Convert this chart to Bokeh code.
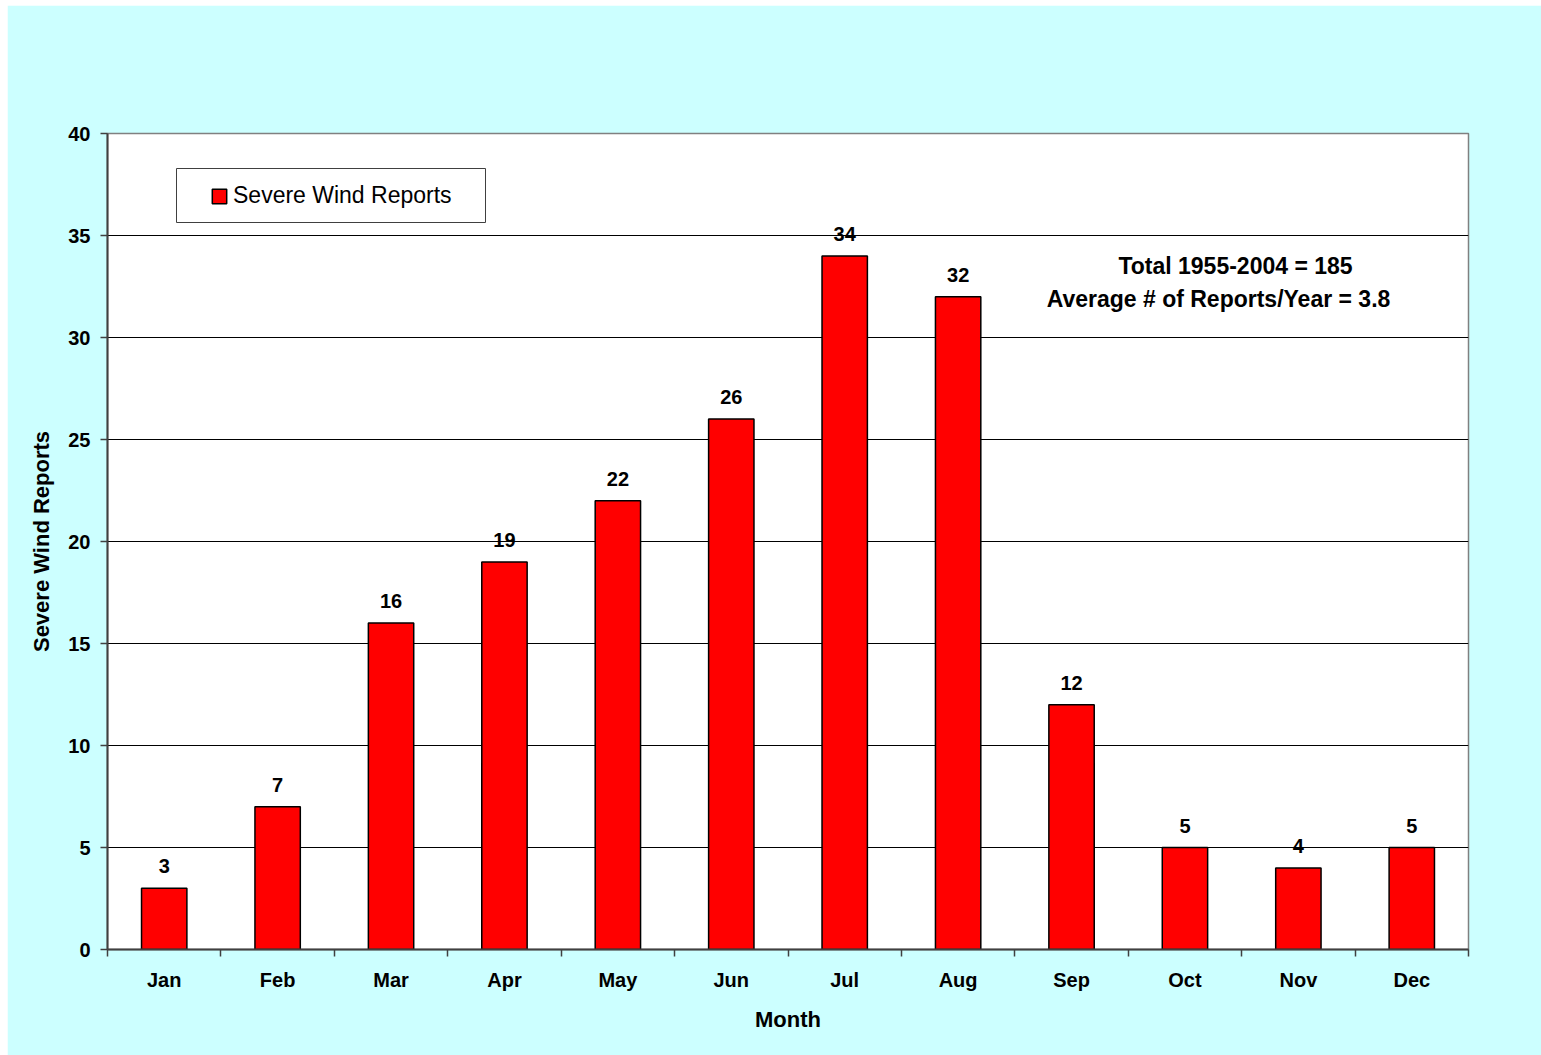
from bokeh.plotting import figure
from bokeh.models import (Range1d, FixedTicker, Label, BoxAnnotation,
                          ColumnDataSource, Legend, LegendItem)
from bokeh.embed import file_html
from bokeh.resources import INLINE
from bokeh.core.properties import value

# ---- data ----
months = ["Jan", "Feb", "Mar", "Apr", "May", "Jun",
          "Jul", "Aug", "Sep", "Oct", "Nov", "Dec"]
reports = [3, 7, 16, 19, 22, 26, 34, 32, 12, 5, 4, 5]
series_name = "Severe Wind Reports"
y_ticks = [0, 5, 10, 15, 20, 25, 30, 35, 40]
note_lines = ["Total 1955-2004 = 185", "Average # of Reports/Year = 3.8"]

FONT = "Liberation Sans"
BG = "#CCFFFF"

centers = [i + 0.5 for i in range(len(months))]
src = ColumnDataSource(dict(x=centers, top=reports,
                            lab=[str(v) for v in reports]))

p = figure(width=1534, height=1050, margin=(5, 0, 0, 7),
           output_backend="svg", toolbar_location=None,
           x_range=Range1d(0, len(months)), y_range=Range1d(0, 40),
           min_border_left=100, min_border_right=73, min_border_top=128,
           min_border_bottom=106)
p.background_fill_color = "white"
p.border_fill_color = BG
p.outline_line_color = "#808080"
p.outline_line_width = 1.5

bars = p.vbar(x="x", top="top", width=0.4, bottom=0, source=src,
              fill_color="#FF0000", line_color="black", line_width=1.5)

p.text(x="x", y="top", text="lab", source=src, text_align="center",
       text_baseline="alphabetic", y_offset=-22,
       text_font=value(FONT), text_font_style="bold",
       text_font_size="20px", text_color="black")

# x axis
xa = p.xaxis[0]
xa.ticker = FixedTicker(ticks=centers, minor_ticks=list(range(len(months) + 1)))
xa.major_label_overrides = {c: m for c, m in zip(centers, months)}
xa.major_tick_out = 0
xa.major_tick_in = 0
xa.minor_tick_out = 7
xa.minor_tick_in = 0
xa.minor_tick_line_color = "#404040"
xa.minor_tick_line_width = 1.5
xa.axis_line_color = "#404040"
xa.axis_line_width = 2
xa.major_label_text_font = FONT
xa.major_label_text_font_style = "bold"
xa.major_label_text_font_size = "20px"
xa.major_label_text_color = "black"
xa.major_label_standoff = 12
xa.axis_label = "Month"
xa.axis_label_text_font = FONT
xa.axis_label_text_font_style = "bold"
xa.axis_label_text_font_size = "22px"
xa.axis_label_text_color = "black"
xa.axis_label_standoff = 13

# y axis
ya = p.yaxis[0]
ya.ticker = FixedTicker(ticks=y_ticks)
ya.major_tick_out = 7
ya.major_tick_in = 0
ya.minor_tick_out = 0
ya.minor_tick_in = 0
ya.major_tick_line_color = "#404040"
ya.major_tick_line_width = 1.5
ya.axis_line_color = "#404040"
ya.axis_line_width = 2
ya.major_label_text_font = FONT
ya.major_label_text_font_style = "bold"
ya.major_label_text_font_size = "20px"
ya.major_label_text_color = "black"
ya.major_label_standoff = 10
ya.axis_label = series_name
ya.axis_label_text_font = FONT
ya.axis_label_text_font_style = "bold"
ya.axis_label_text_font_size = "22px"
ya.axis_label_text_color = "black"
ya.axis_label_standoff = 11

p.xgrid.grid_line_color = None
p.ygrid.grid_line_color = "black"
p.ygrid.grid_line_width = 1
p.ygrid.ticker = FixedTicker(ticks=y_ticks)

# legend frame (screen units, relative to plot frame)
p.add_layout(BoxAnnotation(left=69, right=378, bottom=727, top=781,
                           left_units="screen", right_units="screen",
                           top_units="screen", bottom_units="screen",
                           fill_color="white", fill_alpha=1.0,
                           line_color="#404040", line_width=1, line_alpha=1.0))

legend = Legend(items=[LegendItem(label=series_name, renderers=[bars])],
                location=(103, 740), padding=10, glyph_width=18, glyph_height=18,
                label_standoff=5, label_height=26,
                label_text_font=FONT, label_text_font_size="23px",
                label_text_color="black", border_line_color=None,
                background_fill_alpha=0.0)
p.add_layout(legend, "center")

for txt, sx, sy in [(note_lines[0], 1128, 684), (note_lines[1], 1111, 651)]:
    p.add_layout(Label(x=sx, y=sy, x_units="screen", y_units="screen", text=txt,
                       text_align="center", text_baseline="middle",
                       text_font=FONT, text_font_style="bold",
                       text_font_size="23px", text_color="black"))

open("out.html", "w").write(file_html(p, INLINE))
